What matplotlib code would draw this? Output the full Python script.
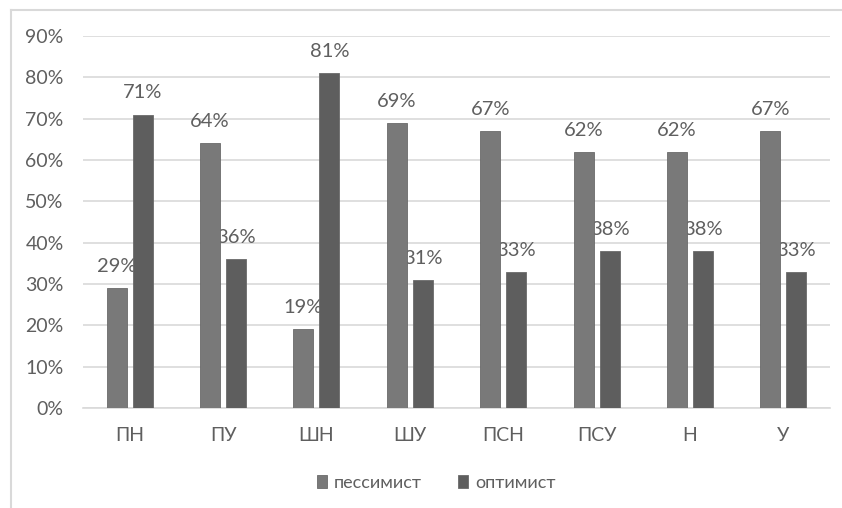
import matplotlib
matplotlib.use('Agg')
from matplotlib import pyplot as plt
from matplotlib.lines import Line2D
import numpy as np

plt.rcParams['font.family'] = ['Lato', 'Open Sans', 'DejaVu Sans']

categories = ['ПН', 'ПУ', 'ШН', 'ШУ', 'ПСН', 'ПСУ', 'Н', 'У']
pessimist = [29, 64, 19, 69, 67, 62, 62, 67]
optimist = [71, 36, 81, 31, 33, 38, 38, 33]
series_names = ['пессимист', 'оптимист']

text_color = '#5f5f5f'
grid_color = '#d9d9d9'
colors = ['#797979', '#5e5e5e']

fig = plt.figure(figsize=(8.42, 5.08), dpi=100)
ax = fig.add_axes([0.0986, 0.1969, 0.8871, 0.7323])

x = np.arange(len(categories))
width = 0.214
gap = 0.064
offsets = [-(width + gap) / 2, (width + gap) / 2]

for vals, off, col, name in zip([pessimist, optimist], offsets, colors, series_names):
    ax.bar(x + off, np.array(vals) / 100, width, color=col, edgecolor='#6a6a6a',
           linewidth=0.6, label=name, zorder=3)
    for xi, v in zip(x + off, vals):
        ax.annotate(f'{v}%', (xi, v / 100), xytext=(0, 15.5), textcoords='offset points',
                    ha='center', va='center', fontsize=14.5, color=text_color, zorder=2)

ax.set_xlim(-0.5, len(categories) - 0.5)
ax.set_ylim(0, 0.9)
ax.set_yticks(np.arange(0, 0.91, 0.1))
ax.set_yticklabels([f'{int(round(t * 100))}%' for t in np.arange(0, 0.91, 0.1)])
ax.set_xticks(x)
ax.set_xticklabels(categories)
ax.tick_params(axis='y', length=0, pad=14, labelsize=14, labelcolor=text_color)
ax.tick_params(axis='x', length=0, pad=14, labelsize=14, labelcolor=text_color)

ax.yaxis.grid(True, color=grid_color, linewidth=1.2, zorder=0)
ax.set_axisbelow(True)
for s in ['top', 'right', 'left']:
    ax.spines[s].set_visible(False)
ax.spines['bottom'].set_color(grid_color)
ax.spines['bottom'].set_linewidth(1.2)

leg = fig.legend(loc='center', bbox_to_anchor=(0.518, 0.049), ncol=2, frameon=False,
                 fontsize=13, handlelength=0.55, handleheight=0.7, handletextpad=0.4,
                 columnspacing=2.0)
for t in leg.get_texts():
    t.set_color(text_color)

# chart frame edges
fig.add_artist(Line2D([11 / 842, 11 / 842], [0, 1 - 10 / 508], color='#d9d9d9',
                      linewidth=1.5, transform=fig.transFigure))
fig.add_artist(Line2D([11 / 842, 1], [1 - 10 / 508, 1 - 10 / 508], color='#d9d9d9',
                      linewidth=1.5, transform=fig.transFigure))

fig.savefig('out.png', dpi=100)
